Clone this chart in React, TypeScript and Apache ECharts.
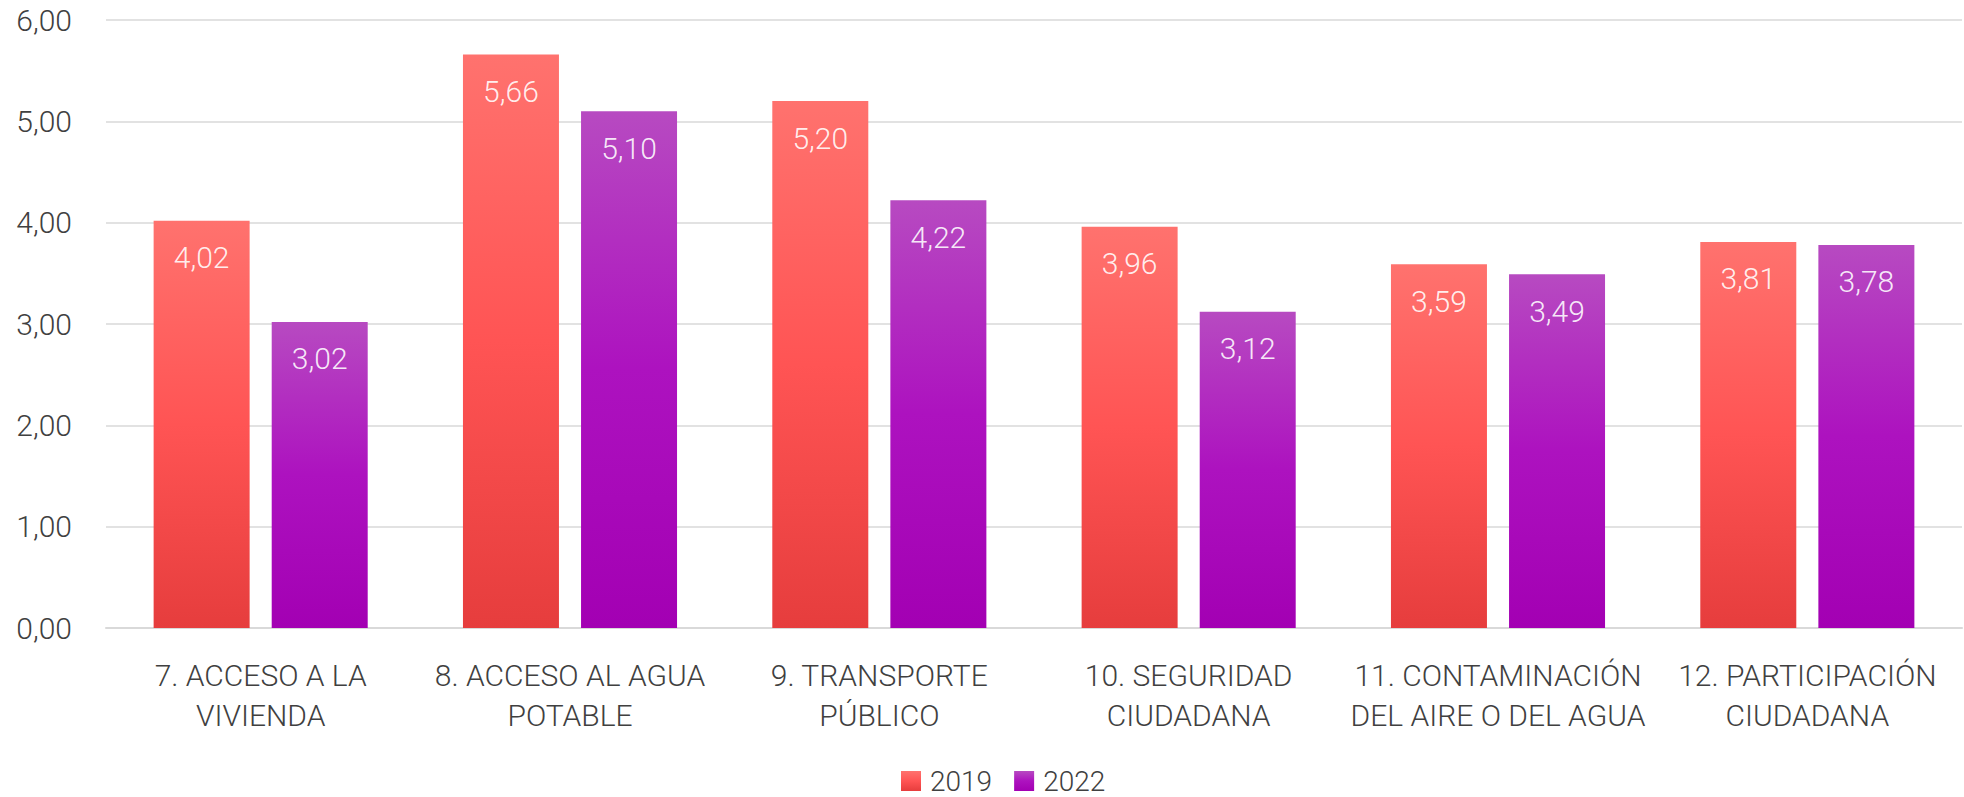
import React, { useEffect, useRef } from "react";
import * as echarts from "echarts";

const categories = [
  "7. ACCESO A LA\nVIVIENDA",
  "8. ACCESO AL AGUA\nPOTABLE",
  "9. TRANSPORTE\nPÚBLICO",
  "10. SEGURIDAD\nCIUDADANA",
  "11. CONTAMINACIÓN\nDEL AIRE O DEL AGUA",
  "12. PARTICIPACIÓN\nCIUDADANA",
];
const seriesNames = ["2019", "2022"];
const values2019 = [4.02, 5.66, 5.2, 3.96, 3.59, 3.81];
const values2022 = [3.02, 5.1, 4.22, 3.12, 3.49, 3.78];
const yTicks = { min: 0, max: 6, interval: 1 };

const FONT = "Roboto, 'Open Sans', sans-serif";
const fmt = (v: number) => v.toFixed(2).replace(".", ",");

export default function App() {
  const ref = useRef<HTMLDivElement>(null);
  useEffect(() => {
    if (!ref.current) return;
    const chart = echarts.init(ref.current, null, { renderer: "svg" });
    const red = new echarts.graphic.LinearGradient(0, 0, 0, 1, [
      { offset: 0, color: "#ff726e" },
      { offset: 0.5, color: "#ff5454" },
      { offset: 1, color: "#e63d3d" },
    ]);
    const purple = new echarts.graphic.LinearGradient(0, 0, 0, 1, [
      { offset: 0, color: "#b74ac1" },
      { offset: 0.5, color: "#ad12bf" },
      { offset: 1, color: "#a300b3" },
    ]);
    const label = {
      show: true,
      position: "insideTop",
      distance: 22,
      color: "rgba(255,255,255,0.9)",
      fontFamily: FONT,
      fontWeight: 300,
      fontSize: 30,
      formatter: (p: any) => fmt(p.value),
    };
    chart.setOption({
      animation: false,
      grid: { left: 106, right: 2, top: 20, bottom: 169, containLabel: false },
      legend: {
        data: seriesNames,
        top: 766,
        left: 901,
        padding: 0,
        itemWidth: 20,
        itemHeight: 20,
        itemGap: 22,
        icon: "rect",
        textStyle: {
          fontFamily: FONT,
          fontWeight: 300,
          fontSize: 28,
          lineHeight: 30,
          color: "#404040",
          padding: [0, 0, 0, 4],
        },
      },
      xAxis: {
        type: "category",
        data: categories,
        axisLine: { lineStyle: { color: "#d9d9d9", width: 2 } },
        axisTick: { show: false },
        axisLabel: {
          interval: 0,
          margin: 27,
          fontFamily: FONT,
          fontWeight: 300,
          fontSize: 30,
          lineHeight: 40,
          color: "#404040",
        },
      },
      yAxis: {
        type: "value",
        min: yTicks.min,
        max: yTicks.max,
        interval: yTicks.interval,
        axisLine: { show: false },
        axisTick: { show: false },
        splitLine: { lineStyle: { color: "#d9d9d9", width: 1.5 } },
        axisLabel: {
          margin: 34,
          fontFamily: FONT,
          fontWeight: 300,
          fontSize: 30,
          color: "#404040",
          formatter: (v: number) => fmt(v),
        },
      },
      series: [
        {
          name: seriesNames[0],
          type: "bar",
          data: values2019,
          barWidth: 96,
          barGap: "23%",
          itemStyle: { color: red },
          label,
        },
        {
          name: seriesNames[1],
          type: "bar",
          data: values2022,
          barWidth: 96,
          barGap: "23%",
          itemStyle: { color: purple },
          label,
        },
      ],
    });
    return () => chart.dispose();
  }, []);
  return (
    <div
      ref={ref}
      style={{ position: "fixed", left: 0, top: 0, width: 1964, height: 797, background: "#fff" }}
    />
  );
}
